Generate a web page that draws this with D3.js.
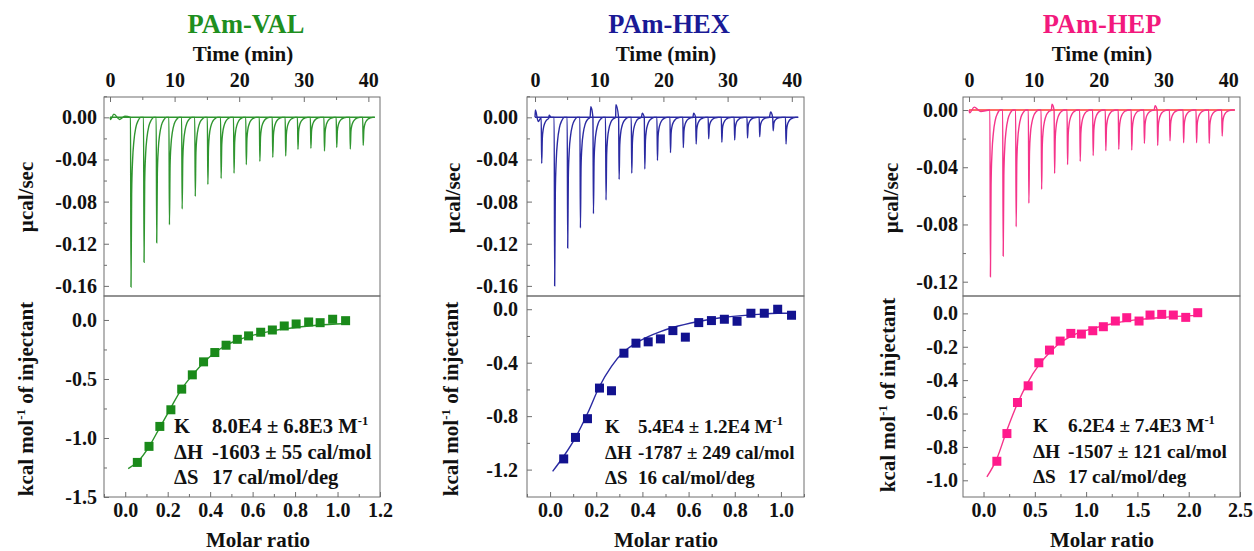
<!DOCTYPE html>
<html>
<head>
<meta charset="utf-8">
<script src="https://cdn.jsdelivr.net/npm/d3@7/dist/d3.min.js"></script>
<style>
  html, body { margin: 0; padding: 0; background: #ffffff; }
  svg { display: block; }
  text { font-family: "Liberation Serif", "Times New Roman", serif; font-weight: bold; }
</style>
</head>
<body>
<svg id="chart" width="1254" height="551"></svg>
<script>
// ---------------- DATA ----------------
const titles = ["PAm-VAL", "PAm-HEX", "PAm-HEP"];

// Thermogram injections: time (min) and peak power (µcal/sec)
const valInjTime = [3.25, 5.27, 7.23, 9.2, 11.17, 13.2, 15.15, 17.2, 19.2, 21.1, 23.2, 25.2, 27.2, 29.1, 31.1, 33.2, 35.1, 37.2, 39.2];
const valPeak    = [-0.161, -0.1376, -0.119, -0.102, -0.087, -0.075, -0.0636, -0.058, -0.053, -0.045, -0.0418, -0.038, -0.0367, -0.0304, -0.0294, -0.032, -0.0285, -0.030, -0.0266];

const hexInjTime = [1.04, 3.06, 5.09, 7.07, 9.1, 11.06, 13.1, 15.07, 17.1, 19.07, 21.1, 23.1, 25.1, 27.05, 29.1, 31.1, 33.1, 35.0, 37.1, 39.1];
const hexPeak    = [-0.0437, -0.160, -0.124, -0.105, -0.0914, -0.0785, -0.0589, -0.053, -0.049, -0.041, -0.0335, -0.0288, -0.0253, -0.0203, -0.0237, -0.0215, -0.0196, -0.0184, -0.0127, -0.0253];

const hepInjTime = [3.3, 5.27, 7.27, 9.23, 11.2, 13.2, 15.2, 17.15, 19.15, 21.1, 23.1, 25.1, 27.05, 29.1, 31.0, 33.1, 35.1, 37.05, 39.05];
const hepPeak    = [-0.1165, -0.102, -0.0816, -0.0652, -0.0554, -0.0443, -0.0382, -0.0359, -0.0319, -0.0284, -0.0275, -0.028, -0.0233, -0.0247, -0.0215, -0.0229, -0.0229, -0.0233, -0.0182];

// Shape of one injection spike (minutes after injection, fraction of peak depth)
const spikeOffset   = [-0.08, 0, 0.1, 0.25, 0.45, 0.75, 1.1, 1.5];
const spikeFraction = [0, 1, 0.45, 0.25, 0.14, 0.06, 0.02, 0];

// Small baseline excursions visible between injections [time, µcal/sec]
const valBaselineBumps = [[0.1, -0.002], [0.6, 0.003], [1.5, -0.002], [2.3, 0.001]];
const hexBaselineBumps = [[0.05, 0.007], [0.5, -0.004], [2.2, 0.002], [8.7, 0.010], [12.6, 0.012], [16.7, 0.004], [24.7, 0.004], [36.7, 0.005]];
const hepBaselineBumps = [[0.1, -0.002], [0.8, 0.002], [1.8, -0.001], [12.8, 0.004], [28.7, 0.003]];

// Integrated heats (kcal/mol of injectant) vs molar ratio
const valRatio = [0.057, 0.112, 0.163, 0.215, 0.266, 0.316, 0.369, 0.422, 0.475, 0.528, 0.581, 0.638, 0.693, 0.749, 0.805, 0.864, 0.918, 0.977, 1.038];
const valHeat  = [-1.207, -1.071, -0.902, -0.761, -0.586, -0.465, -0.355, -0.276, -0.214, -0.164, -0.135, -0.104, -0.085, -0.051, -0.034, -0.017, -0.023, 0.006, -0.006];

const hexRatio = [0.059, 0.110, 0.162, 0.214, 0.266, 0.320, 0.372, 0.425, 0.478, 0.532, 0.586, 0.644, 0.699, 0.755, 0.810, 0.870, 0.928, 0.986, 1.046];
const hexHeat  = [-1.120, -0.959, -0.819, -0.590, -0.610, -0.329, -0.254, -0.244, -0.222, -0.160, -0.209, -0.100, -0.085, -0.075, -0.090, -0.030, -0.030, 0.000, -0.045];

const hepRatio = [0.130, 0.228, 0.331, 0.435, 0.539, 0.643, 0.747, 0.851, 0.954, 1.065, 1.168, 1.285, 1.396, 1.516, 1.623, 1.737, 1.850, 1.971, 2.088];
const hepHeat  = [-0.886, -0.720, -0.534, -0.434, -0.296, -0.220, -0.166, -0.120, -0.124, -0.104, -0.080, -0.046, -0.026, -0.046, -0.010, -0.006, -0.010, -0.024, 0.004];

// Fitted curves
const valFitRatio = [0.014, 0.06, 0.11, 0.16, 0.21, 0.26, 0.32, 0.37, 0.42, 0.48, 0.53, 0.60, 0.70, 0.80, 0.90, 1.04];
const valFitHeat  = [-1.26, -1.20, -1.08, -0.92, -0.76, -0.60, -0.46, -0.36, -0.28, -0.21, -0.17, -0.13, -0.09, -0.065, -0.045, -0.03];
const hexFitRatio = [0.011, 0.059, 0.113, 0.163, 0.214, 0.266, 0.320, 0.372, 0.425, 0.478, 0.532, 0.643, 0.755, 0.870, 0.986, 1.046];
const hexFitHeat  = [-1.213, -1.10, -0.951, -0.777, -0.578, -0.428, -0.317, -0.254, -0.205, -0.167, -0.137, -0.092, -0.060, -0.043, -0.030, -0.03];
const hepFitRatio = [0.033, 0.13, 0.228, 0.331, 0.435, 0.539, 0.643, 0.747, 0.877, 1.07, 1.30, 1.53, 1.75, 2.088];
const hepFitHeat  = [-0.98, -0.87, -0.70, -0.54, -0.41, -0.31, -0.236, -0.176, -0.13, -0.09, -0.056, -0.036, -0.024, -0.012];

// Tick values
const timeTicks = [0, 10, 20, 30, 40];
const timeMinor = [5, 15, 25, 35];
const valPowerTicks = [0, -0.04, -0.08, -0.12, -0.16];
const hexPowerTicks = [0, -0.04, -0.08, -0.12, -0.16];
const hepPowerTicks = [0, -0.04, -0.08, -0.12];
const valPowerMinor = [0.02, -0.02, -0.06, -0.10, -0.14];
const hexPowerMinor = [0.02, -0.02, -0.06, -0.10, -0.14];
const hepPowerMinor = [-0.02, -0.06, -0.10];
const valHeatTicks = [0, -0.5, -1.0, -1.5];
const valHeatMinor = [-0.25, -0.75, -1.25];
const hexHeatTicks = [0, -0.4, -0.8, -1.2];
const hexHeatMinor = [-0.2, -0.6, -1.0];
const hepHeatTicks = [0, -0.2, -0.4, -0.6, -0.8, -1.0];
const hepHeatMinor = [-0.1, -0.3, -0.5, -0.7, -0.9];
const valRatioTicks = [0, 0.2, 0.4, 0.6, 0.8, 1.0, 1.2];
const valRatioMinor = [-0.1, 0.1, 0.3, 0.5, 0.7, 0.9, 1.1];
const hexRatioTicks = [0, 0.2, 0.4, 0.6, 0.8, 1.0];
const hexRatioMinor = [-0.1, 0.1, 0.3, 0.5, 0.7, 0.9, 1.1];
const hepRatioTicks = [0, 0.5, 1.0, 1.5, 2.0, 2.5];
const hepRatioMinor = [0.25, 0.75, 1.25, 1.75, 2.25];

// Fit parameter annotations [label, value, superscript]
const valParams = [["K", "8.0E4 \u00B1 6.8E3 M", "-1"], ["\u0394H", "-1603 \u00B1 55 cal/mol", ""], ["\u0394S", "17 cal/mol/deg", ""]];
const hexParams = [["K", "5.4E4 \u00B1 1.2E4 M", "-1"], ["\u0394H", "-1787 \u00B1 249 cal/mol", ""], ["\u0394S", "16 cal/mol/deg", ""]];
const hepParams = [["K", "6.2E4 \u00B1 7.4E3 M", "-1"], ["\u0394H", "-1507 \u00B1 121 cal/mol", ""], ["\u0394S", "17 cal/mol/deg", ""]];

// ---------------- LAYOUT / STYLE ----------------
const panels = [
  { title: titles[0], titleColor: "#1f8f1f", trace: "#2f952f", base: "#2f952f", marker: "#1a8a1a", fit: "#2a922a",
    inj: valInjTime, peak: valPeak, bumps: valBaselineBumps, traceEnd: 41.0,
    ratio: valRatio, heat: valHeat, fitR: valFitRatio, fitH: valFitHeat,
    x0: 104, x1: 380, tDom: [-0.93, 41.8], pDom: [-0.1696, 0.0193], hDom: [-1.5, 0.203], rDom: [-0.1, 1.2],
    pTicks: valPowerTicks, pMinor: valPowerMinor, hTicks: valHeatTicks, hMinor: valHeatMinor,
    rTicks: valRatioTicks, rMinor: valRatioMinor, params: valParams,
    titleX: 246, timeLabX: 243, molarX: 258, yLabX: 33, yLab2X: 33, yLab1Y: 197, yLab2Y: 399,
    leftPad: 7, parX: 174, parX2: 212, parY: 433, parFont: 20.6 },
  { title: titles[1], titleColor: "#1a1a96", trace: "#2a2aa2", base: "#2a2aa2", marker: "#12128f", fit: "#2a2aa2",
    inj: hexInjTime, peak: hexPeak, bumps: hexBaselineBumps, traceEnd: 41.0,
    ratio: hexRatio, heat: hexHeat, fitR: hexFitRatio, fitH: hexFitHeat,
    x0: 527, x1: 804, tDom: [-1.25, 41.9], pDom: [-0.1696, 0.0193], hDom: [-1.405, 0.099], rDom: [-0.1, 1.1],
    pTicks: hexPowerTicks, pMinor: hexPowerMinor, hTicks: hexHeatTicks, hMinor: hexHeatMinor,
    rTicks: hexRatioTicks, rMinor: hexRatioMinor, params: hexParams,
    titleX: 669, timeLabX: 666, molarX: 666, yLabX: 460, yLab2X: 458, yLab1Y: 198, yLab2Y: 399,
    leftPad: 9, parX: 605, parX2: 638, parY: 433, parFont: 19 },
  { title: titles[2], titleColor: "#f2197d", trace: "#f5348a", base: "#ff3b30", marker: "#ff1a8c", fit: "#f5348a",
    inj: hepInjTime, peak: hepPeak, bumps: hepBaselineBumps, traceEnd: 41.0,
    ratio: hepRatio, heat: hepHeat, fitR: hepFitRatio, fitH: hepFitHeat,
    x0: 963, x1: 1240, tDom: [-0.93, 41.8], pDom: [-0.13, 0.0091], hDom: [-1.1, 0.104], rDom: [-0.2, 2.5],
    pTicks: hepPowerTicks, pMinor: hepPowerMinor, hTicks: hepHeatTicks, hMinor: hepHeatMinor,
    rTicks: hepRatioTicks, rMinor: hepRatioMinor, params: hepParams,
    titleX: 1102, timeLabX: 1102, molarX: 1102, yLabX: 898, yLab2X: 895, yLab1Y: 198, yLab2Y: 395,
    leftPad: 5, parX: 1033, parX2: 1068, parY: 432, parFont: 19.3 }
];

const yTop = 97, yMid = 296, yBot = 497;
const frameColor = "#6e6e6e";
const tickFont = 20, labelFont = 21;

const svg = d3.select("#chart");

function fmt(dec) { return v => (Math.abs(v) < 1e-9 ? 0 : v).toFixed(dec); }

function styleAxis(g) {
  g.select(".domain").remove();
  g.selectAll(".tick line").attr("stroke", frameColor).attr("stroke-width", 1);
  g.selectAll(".tick text").attr("fill", "#111").style("font-size", tickFont + "px");
}

panels.forEach(p => {
  const g = svg.append("g");
  const xT = d3.scaleLinear().domain(p.tDom).range([p.x0, p.x1]);
  const yP = d3.scaleLinear().domain(p.pDom).range([yMid, yTop]);
  const xR = d3.scaleLinear().domain(p.rDom).range([p.x0, p.x1]);
  const yH = d3.scaleLinear().domain(p.hDom).range([yBot, yMid]);

  // ---- thermogram trace (built from injection times/peaks) ----
  let pts = [[0, 0]];
  p.bumps.forEach(b => pts.push(b));
  p.inj.forEach((t, i) => {
    spikeOffset.forEach((o, k) => pts.push([t + o, p.peak[i] * spikeFraction[k]]));
  });
  pts.push([p.traceEnd, 0]);
  pts.sort((a, b) => a[0] - b[0]);

  const clipId = "clip" + p.x0;
  svg.append("clipPath").attr("id", clipId)
    .append("rect").attr("x", p.x0).attr("y", yTop).attr("width", p.x1 - p.x0).attr("height", yMid - yTop);

  g.append("line")
    .attr("x1", xT(0)).attr("x2", xT(p.traceEnd)).attr("y1", yP(0)).attr("y2", yP(0))
    .attr("stroke", p.base).attr("stroke-width", 1.5);

  g.append("path").datum(pts)
    .attr("clip-path", `url(#${clipId})`)
    .attr("fill", "none").attr("stroke", p.trace).attr("stroke-width", 1.4)
    .attr("d", d3.line().x(d => xT(d[0])).y(d => yP(d[1])).curve(d3.curveMonotoneX));

  // ---- binding isotherm ----
  const fitPts = p.fitR.map((r, i) => [r, p.fitH[i]]);
  g.append("path").datum(fitPts)
    .attr("fill", "none").attr("stroke", p.fit).attr("stroke-width", 1.4)
    .attr("d", d3.line().x(d => xR(d[0])).y(d => yH(d[1])).curve(d3.curveMonotoneX));

  const ms = 9;
  g.selectAll("rect.pt").data(p.ratio.map((r, i) => [r, p.heat[i]])).enter()
    .append("rect").attr("class", "pt")
    .attr("x", d => xR(d[0]) - ms / 2).attr("y", d => yH(d[1]) - ms / 2)
    .attr("width", ms).attr("height", ms).attr("fill", p.marker);

  // ---- frames ----
  g.append("rect").attr("x", p.x0).attr("y", yTop).attr("width", p.x1 - p.x0).attr("height", yMid - yTop)
    .attr("fill", "none").attr("stroke", frameColor).attr("stroke-width", 1);
  g.append("rect").attr("x", p.x0).attr("y", yMid).attr("width", p.x1 - p.x0).attr("height", yBot - yMid)
    .attr("fill", "none").attr("stroke", frameColor).attr("stroke-width", 1);

  // ---- axes ----
  g.append("g").attr("transform", `translate(0,${yTop})`)
    .call(d3.axisTop(xT).tickValues(timeTicks).tickFormat(d3.format("d")).tickSize(-5).tickPadding(10))
    .call(styleAxis);
  g.append("g").attr("transform", `translate(0,${yTop})`)
    .call(d3.axisTop(xT).tickValues(timeMinor).tickFormat("").tickSize(-3)).call(styleAxis);

  g.append("g").attr("transform", `translate(${p.x0},0)`)
    .call(d3.axisLeft(yP).tickValues(p.pTicks).tickFormat(fmt(2)).tickSize(-5).tickPadding(p.leftPad))
    .call(styleAxis);
  g.append("g").attr("transform", `translate(${p.x0},0)`)
    .call(d3.axisLeft(yP).tickValues(p.pMinor).tickFormat("").tickSize(-3)).call(styleAxis);

  g.append("g").attr("transform", `translate(${p.x0},0)`)
    .call(d3.axisLeft(yH).tickValues(p.hTicks).tickFormat(fmt(1)).tickSize(-5).tickPadding(p.leftPad))
    .call(styleAxis);
  g.append("g").attr("transform", `translate(${p.x0},0)`)
    .call(d3.axisLeft(yH).tickValues(p.hMinor).tickFormat("").tickSize(-3)).call(styleAxis);

  g.append("g").attr("transform", `translate(0,${yBot})`)
    .call(d3.axisBottom(xR).tickValues(p.rTicks).tickFormat(fmt(1)).tickSize(-5).tickPadding(6))
    .call(styleAxis);
  g.append("g").attr("transform", `translate(0,${yBot})`)
    .call(d3.axisBottom(xR).tickValues(p.rMinor).tickFormat("").tickSize(-3)).call(styleAxis);

  // ---- titles and labels ----
  g.append("text").attr("x", p.titleX).attr("y", 33).attr("text-anchor", "middle")
    .attr("fill", p.titleColor).style("font-size", "26.5px").text(p.title);
  g.append("text").attr("x", p.timeLabX).attr("y", 61).attr("text-anchor", "middle")
    .attr("fill", "#111").style("font-size", labelFont + "px").text("Time (min)");
  g.append("text").attr("x", p.molarX).attr("y", 547).attr("text-anchor", "middle")
    .attr("fill", "#111").style("font-size", labelFont + "px").text("Molar ratio");

  g.append("text").attr("transform", `translate(${p.yLabX},${p.yLab1Y}) rotate(-90)`)
    .attr("text-anchor", "middle").attr("fill", "#111").style("font-size", labelFont + "px").text("\u00B5cal/sec");
  const yl = g.append("text").attr("transform", `translate(${p.yLab2X},${p.yLab2Y}) rotate(-90)`)
    .attr("text-anchor", "middle").attr("fill", "#111").style("font-size", labelFont + "px");
  yl.append("tspan").text("kcal mol");
  yl.append("tspan").attr("dy", -8).style("font-size", "13px").text("-1");
  yl.append("tspan").attr("dy", 8).text(" of injectant");

  // ---- parameter box ----
  p.params.forEach((row, i) => {
    const y = p.parY + i * 25.5;
    g.append("text").attr("x", p.parX).attr("y", y).attr("fill", "#111").style("font-size", p.parFont + "px").text(row[0]);
    const t = g.append("text").attr("x", p.parX2).attr("y", y).attr("fill", "#111").style("font-size", p.parFont + "px");
    t.append("tspan").text(row[1]);
    if (row[2]) t.append("tspan").attr("dy", -8).style("font-size", "12.5px").text(row[2]);
  });
});
</script>
</body>
</html>
